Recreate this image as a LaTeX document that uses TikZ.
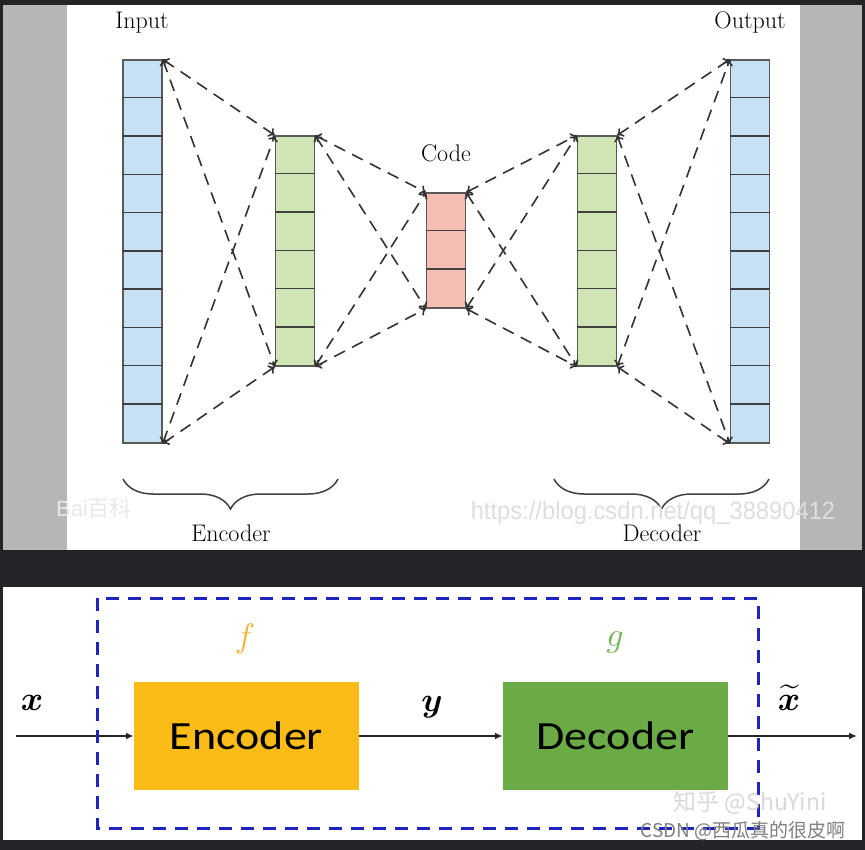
\documentclass[tikz,border=0pt]{standalone}
\usepackage{fontspec}
\usepackage{bm}
\usetikzlibrary{arrows.meta,decorations.pathreplacing}

\newfontfamily\blockfont{Carlito}
\newfontfamily\wmfont{Liberation Sans}
\newfontfamily\cjk{Noto Sans CJK SC}
\newcommand{\biglab}[1]{\scalebox{3.4}{#1}}

\definecolor{pagebg}{RGB}{35,36,40}
\definecolor{stripgray}{RGB}{181,182,181}
\definecolor{inpblue}{RGB}{198,225,244}
\definecolor{hidgreen}{RGB}{207,229,180}
\definecolor{codered}{RGB}{244,190,178}
\definecolor{encyellow}{RGB}{251,188,24}
\definecolor{decgreen}{RGB}{106,171,69}
\definecolor{fgold}{RGB}{236,184,60}
\definecolor{ggreen}{RGB}{122,181,95}
\definecolor{boxblue}{RGB}{32,36,190}

\begin{document}
\begin{tikzpicture}[x=1pt,y=-1pt]

\tikzset{layer/.style={draw=black!65, line width=1.3pt, minimum width=39pt, inner sep=0pt},
cellline/.style={black!75, line width=1.4pt},
link/.style={black!80, line width=1.6pt, dash pattern=on 12pt off 8pt, >={To[length=6pt,width=10pt]}, <->},
toplabel/.style={anchor=base, font=\fontsize{24}{28}\selectfont},
%the two blocks of the lower panel
blockbox/.style={minimum width=225pt, minimum height=108pt, inner sep=0pt, font=\blockfont\fontsize{40}{46}\selectfont},
flow/.style={black!85, line width=1.8pt, -{Latex[length=8pt,width=7pt]}},
mathlab/.style={anchor=base, inner sep=0pt},
wmtext/.style={inner sep=0pt}}

\useasboundingbox (0,0) rectangle (865,850);

% panels
\fill[pagebg] (0,0) rectangle (865,850);
\fill[stripgray] (3,5) rectangle (862,550);
\fill[white] (67,5) rectangle (800,550);
\fill[white] (3,587) rectangle (862,840);

% upper panel: the network
\node[layer, fill=inpblue, minimum height=383pt] (inp) at (142.5,251.5) {};
\node[layer, fill=hidgreen, minimum height=230pt] (enc) at (295,251) {};
\node[layer, fill=codered, minimum height=115pt] (code) at (446,250.5) {};
\node[layer, fill=hidgreen, minimum height=230pt] (dec) at (597,251) {};
\node[layer, fill=inpblue, minimum height=383pt] (out) at (750,251.5) {};

\foreach \i in {1,...,9} {
  \draw[cellline] ([yshift=-\i*38.3pt]inp.north west) -- ([yshift=-\i*38.3pt]inp.north east);
  \draw[cellline] ([yshift=-\i*38.3pt]out.north west) -- ([yshift=-\i*38.3pt]out.north east);
}
\foreach \i in {1,...,5} {
  \draw[cellline] ([yshift=-\i*38.3pt]enc.north west) -- ([yshift=-\i*38.3pt]enc.north east);
  \draw[cellline] ([yshift=-\i*38.3pt]dec.north west) -- ([yshift=-\i*38.3pt]dec.north east);
}
\foreach \i in {1,2}
  \draw[cellline] ([yshift=-\i*38.3pt]code.north west) -- ([yshift=-\i*38.3pt]code.north east);

\foreach \a/\b in {inp/enc, enc/code, code/dec, dec/out} {
  \draw[link] (\a.north east) -- (\b.north west);
  \draw[link] (\a.north east) -- (\b.south west);
  \draw[link] (\a.south east) -- (\b.north west);
  \draw[link] (\a.south east) -- (\b.south west);
}

\node[toplabel] (inplab) at (142,29) {Input};
\node[toplabel] (outlab) at (750,29) {Output};
\node[toplabel] (codelab) at (446,162) {Code};

\draw[black!75, line width=1.5pt, decorate, decoration={brace, mirror, amplitude=30pt}] (123,479) -- (338,479);
\draw[black!75, line width=1.5pt, decorate, decoration={brace, mirror, amplitude=30pt}] (554,479) -- (769,479);
\node[toplabel] (enclab) at (231,541) {Encoder};
\node[toplabel] (declab) at (662,541) {Decoder};

\node[wmtext, text=black!9, font=\wmfont\fontsize{22}{24}\selectfont] (wmbaidu) at (94,508) {Bai\cjk 百科};
\node[wmtext, text=black!13, font=\wmfont\fontsize{25}{28}\selectfont] (wmurl) at (653,513) {\scalebox{0.95}[1]{https://blog.csdn.net/qq\_38890412}};

% lower panel: encoder / decoder
\node[blockbox, fill=encyellow] (encb) at (246.5,736) {\scalebox{1.15}[1]{Encoder}};
\node[blockbox, fill=decgreen] (decb) at (615.5,736) {\scalebox{1.15}[1]{Decoder}};

\coordinate (xin) at (16,736);
\coordinate (xout) at (857,736);
\draw[flow] (xin) -- (encb);
\draw[flow] (encb) -- (decb);
\draw[flow] (decb) -- (xout);

\draw[boxblue, line width=3pt, dash pattern=on 13pt off 9pt] (97,598) rectangle (758,828);

\node[mathlab] (xlab) at (32,710) {\biglab{$\bm{x}$}};
\node[mathlab] (ylab) at (432,711) {\biglab{$\bm{y}$}};
\node[mathlab] (xtlab) at (789,710) {\biglab{$\widetilde{\bm{x}}$}};
\node[mathlab, text=fgold] (flab) at (245,647) {\biglab{$f$}};
\node[mathlab, text=ggreen] (glab) at (615,646) {\biglab{$g$}};

\node[wmtext, text=black!15, font=\cjk\fontsize{23}{26}\selectfont] (wmzhihu) at (750,803) {知乎 @ShuYini};
\node[wmtext, text=black!50, font=\cjk\fontsize{19}{22}\selectfont] (wmcsdn) at (743,831) {CSDN @西瓜真的很皮啊};

\end{tikzpicture}
\end{document}
